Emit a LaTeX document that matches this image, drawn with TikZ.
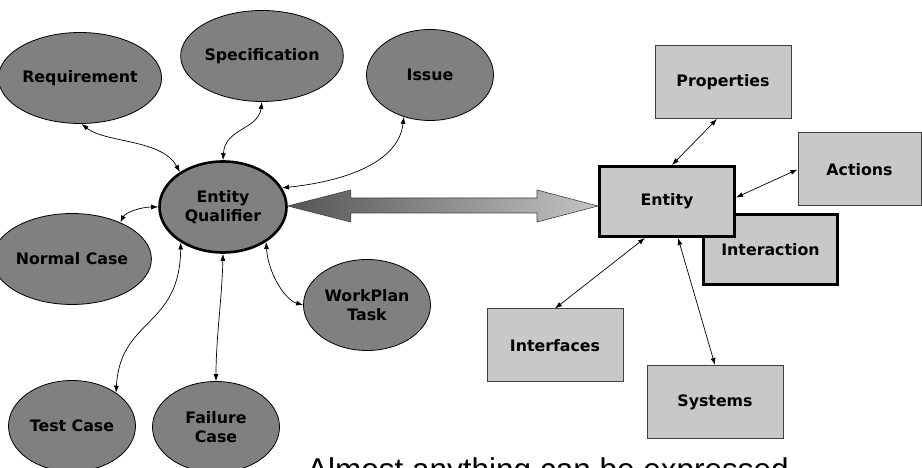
\documentclass[tikz,border=0pt]{standalone}
\usepackage{fontspec}
\setmainfont{DejaVu Sans}
\newfontfamily\captionfont{Liberation Sans}
\usetikzlibrary{arrows.meta,calc,shapes.geometric}
\definecolor{ovalgray}{HTML}{808080}
\definecolor{boxgray}{HTML}{C8C8C8}
\definecolor{edgegray}{HTML}{404040}
\definecolor{arrowdark}{HTML}{555555}
\definecolor{arrowlight}{HTML}{C4C4C4}
\begin{document}
\begin{tikzpicture}[x=1pt,y=1pt,
  lbl/.style={font=\fontsize{15.8}{19}\selectfont\bfseries},
  oval/.style={ellipse,draw=black,line width=0.8pt,fill=ovalgray,minimum width=127pt,minimum height=91pt,inner sep=0pt,align=center,lbl},
  mainoval/.style={oval,line width=2.6pt},
  box/.style={rectangle,draw=edgegray,line width=1pt,fill=boxgray,minimum width=136pt,minimum height=73pt,inner sep=0pt,align=center,lbl},
  mainbox/.style={box,draw=black,line width=3pt},
  link/.style={line width=0.7pt,{Latex[length=7pt,width=5pt]}-{Latex[length=7pt,width=5pt]}}
]
\useasboundingbox (0,0) rectangle (922,468);
\clip (0,0) rectangle (922,468);

% left cluster
\node[oval] (req) at (80,390) {Requirement};
\node[oval] (spec) at (262,412) {Specification};
\node[oval] (issue) at (430,393) {Issue};
\node[mainoval] (eq) at (223,261) {Entity\\Qualifier};
\node[oval] (normal) at (72,209) {Normal Case};
\node[oval] (work) at (367,163) {WorkPlan\\Task};
\node[oval] (test) at (72,42) {Test Case};
\node[oval] (fail) at (216,41) {Failure\\Case};

% right cluster
\node[box] (prop) at (723,386) {Properties};
\node[box,minimum width=123pt] (act) at (859.5,298.5) {Actions};
\node[mainbox,minimum width=134pt,minimum height=70pt] (inter) at (770.5,218.5) {Interaction};
\node[mainbox,minimum width=135pt,minimum height=70pt] (ent) at (667,266.5) {Entity};
\node[box] (intf) at (555,122.5) {Interfaces};
\node[box] (sys) at (715,66) {Systems};

% big double arrow
\coordinate (L) at (eq.east);
\coordinate (R) at (ent.west |- L);
\shade[left color=arrowdark,right color=arrowlight,draw=edgegray,line width=0.6pt]
  ($(L)+(0,1)$) -- ($(L)+(63,17)$) -- ($(L)+(63,9)$) -- ($(R)+(-61,9)$) -- ($(R)+(-61,17)$)
  -- ($(R)+(0,1)$) -- ($(R)+(-61,-15)$) -- ($(R)+(-61,-6)$) -- ($(L)+(63,-6)$) -- ($(L)+(63,-15)$) -- cycle;

% connectors left
\draw[link] (req.-88) .. controls (105,325) and (162,329) .. (eq.141);
\draw[link] (spec.-90) .. controls (258,338) and (225,340) .. (eq.90);
\draw[link] (issue.-122) .. controls (398,300) and (330,285) .. (eq.18);
\draw[link] (normal.37) .. controls (125,255) and (140,261) .. (eq.180);
\draw[link] (test.37) .. controls (120,150) and (180,140) .. (eq.-140);
\draw[link] (fail.90) .. controls (216,130) and (222,170) .. (eq.-90);
\draw[link] (work.180) .. controls (285,168) and (268,195) .. (eq.-39);

% connectors right
\draw[link] ([xshift=-6pt]prop.south) -- ([xshift=5pt]ent.north);
\draw[link] (act.west) -- ([yshift=4pt]ent.east);
\draw[link] (intf.north) -- ([xshift=-22pt]ent.south);
\draw[link] (sys.north) -- ([xshift=11pt]ent.south);

% caption (cut by the frame, as in the reference)
\node[anchor=base west,inner sep=0pt,font=\captionfont\fontsize{31.5}{36}\selectfont] (cap) at (307,-12.5) {Almost anything can be expressed};
\end{tikzpicture}
\end{document}
